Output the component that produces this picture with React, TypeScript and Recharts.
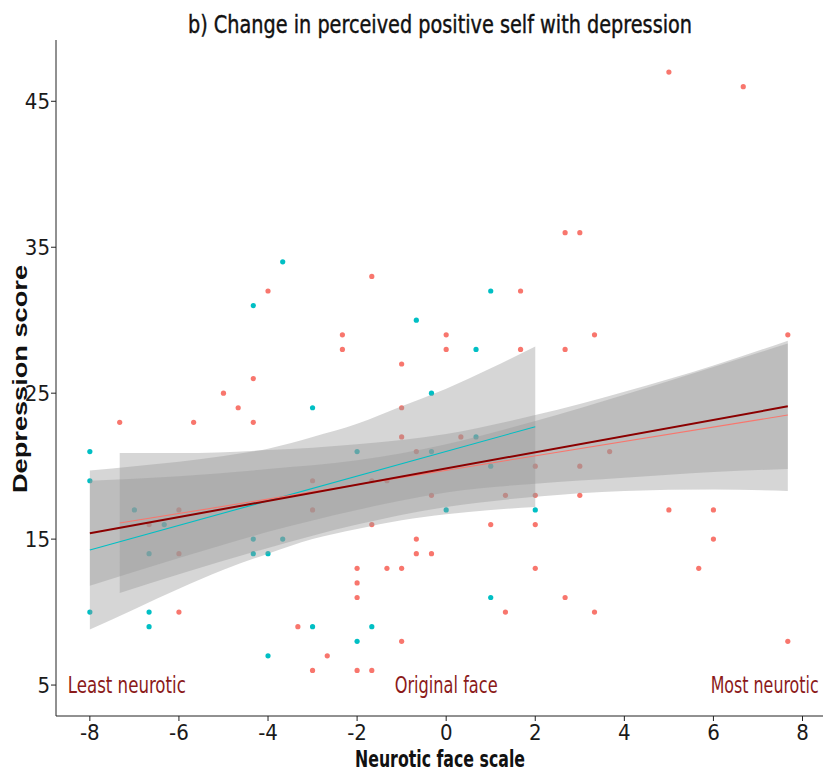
import React from "react";
import { ComposedChart, Scatter, Area, Line, XAxis, YAxis } from "recharts";

const xTicks = [-8, -6, -4, -2, 0, 2, 4, 6, 8];
const yTicks = [5, 15, 25, 35, 45];

// salmon group: [neurotic face scale, depression score]
const salmonRaw = [
  [-7.33, 23], [-6.67, 16], [-6, 17], [-6, 14], [-6, 10], [-5.67, 23], [-5, 25],
  [-4.67, 24], [-4.33, 26], [-4.33, 23], [-4, 32], [-3.33, 9], [-3, 19], [-3, 17],
  [-3, 6], [-2.67, 7], [-2.33, 29], [-2.33, 28], [-2, 13], [-2, 12], [-2, 11],
  [-2, 6], [-1.67, 33], [-1.67, 19], [-1.67, 16], [-1.67, 6], [-1.33, 19], [-1.33, 13],
  [-1, 27], [-1, 24], [-1, 22], [-1, 13], [-1, 8], [-0.67, 21], [-0.67, 15],
  [-0.67, 14], [-0.33, 18], [-0.33, 14], [0, 29], [0, 28], [0.33, 22], [1, 16],
  [1.33, 18], [1.33, 10], [1.67, 32], [1.67, 28], [2, 20], [2, 18], [2, 16],
  [2, 13], [2.67, 36], [2.67, 28], [2.67, 11], [3, 36], [3, 20], [3, 18],
  [3.33, 29], [3.33, 10], [3.67, 21], [5, 47], [5, 17], [5.67, 13], [6, 17],
  [6, 15], [6.67, 46], [7.67, 29], [7.67, 8],
];

// teal group
const tealRaw = [
  [-8, 21], [-8, 19], [-8, 10], [-7, 17], [-6.67, 14], [-6.67, 10], [-6.67, 9],
  [-6.33, 16], [-4.33, 31], [-4.33, 15], [-4.33, 14], [-4, 14], [-4, 7],
  [-3.67, 34], [-3.67, 15], [-3, 24], [-3, 9], [-2, 21], [-2, 8], [-1.67, 9],
  [-0.67, 30], [-0.33, 25], [-0.33, 21], [0, 17], [0.67, 28], [0.67, 22],
  [1, 32], [1, 20], [1, 11], [2, 17],
];

// confidence bands: [x, lower, upper]
const tealBandRaw = [
  [-8, 8.8, 19.7], [-7, 10.2, 20.0], [-6, 11.6, 20.3], [-5, 12.9, 20.7],
  [-4, 14.0, 21.2], [-3, 15.0, 22.0], [-2, 15.7, 22.9], [-1, 16.3, 24.1],
  [0, 16.7, 25.3], [1, 17.0, 26.7], [2, 17.2, 28.2],
];
const salmonBandRaw = [
  [-7.33, 11.3, 20.9], [-6, 12.6, 20.9], [-4, 14.4, 21.1], [-2, 16.0, 21.5],
  [0, 17.2, 22.2], [2, 17.9, 23.5], [4, 18.3, 25.1], [6, 18.4, 26.9],
  [7.67, 18.3, 28.6],
];
const overallBandRaw = [
  [-8, 11.8, 19.0], [-6, 13.7, 19.3], [-4, 15.5, 19.8], [-2, 17.0, 20.4],
  [0, 18.2, 21.5], [2, 18.8, 23.1], [4, 19.2, 24.9], [6, 19.6, 26.8],
  [7.67, 19.8, 28.4],
];

// fitted lines: [x, y]
const tealFitRaw = [[-8, 14.25], [2, 22.7]];
const salmonFitRaw = [[-7.33, 16.1], [7.67, 23.5]];
const overallFitRaw = [[-8, 15.4], [7.67, 24.1]];

const notes = [
  { x: -7.17, y: 5, text: "Least neurotic", len: 118 },
  { x: 0, y: 5, text: "Original face", len: 103 },
  { x: 7.15, y: 5, text: "Most neurotic", len: 108 },
];

const toPts = (rows: number[][]) => rows.map(([x, y]) => ({ x, y }));
const toBand = (rows: number[][]) => rows.map(([x, lo, hi]) => ({ x, band: [lo, hi] }));

const salmonPoints = toPts(salmonRaw);
const tealPoints = toPts(tealRaw);

const SALMON = "#F8766D";
const TEAL = "#00BFC4";
const DARKRED = "#8B0000";
const narrow = "'Liberation Sans Narrow', 'DejaVu Sans Condensed', sans-serif";

const dot = (color: string) => (p: any) => <circle cx={p.cx} cy={p.cy} r={2.6} fill={color} />;

export default function App() {
  const tick = { fontSize: 22, fontFamily: narrow, fill: "#1a1a1a" };
  return (
    <div style={{ position: "absolute", left: 0, top: 0, width: 825, height: 773, background: "#fff" }}>
      <ComposedChart width={825} height={773} margin={{ top: 40, right: 2, left: 0, bottom: 0 }}>
        <XAxis
          type="number"
          dataKey="x"
          domain={[-8.76, 8.46]}
          allowDataOverflow
          ticks={xTicks}
          tick={tick}
          tickSize={5}
          tickMargin={3}
          height={57}
          axisLine={{ stroke: "#222" }}
          tickLine={{ stroke: "#222" }}
        />
        <YAxis
          type="number"
          dataKey="y"
          domain={[2.88, 49.2]}
          allowDataOverflow
          ticks={yTicks}
          tick={tick}
          tickSize={5}
          tickMargin={1}
          width={56}
          axisLine={{ stroke: "#222" }}
          tickLine={{ stroke: "#222" }}
        />
        <Scatter data={salmonPoints} shape={dot(SALMON)} isAnimationActive={false} zIndex={50} />
        <Scatter data={tealPoints} shape={dot(TEAL)} isAnimationActive={false} zIndex={50} />
        <Area data={toBand(tealBandRaw)} dataKey="band" type="monotone" fill="#999999" fillOpacity={0.4} stroke="none" isAnimationActive={false} />
        <Area data={toBand(salmonBandRaw)} dataKey="band" type="monotone" fill="#999999" fillOpacity={0.4} stroke="none" isAnimationActive={false} />
        <Area data={toBand(overallBandRaw)} dataKey="band" type="monotone" fill="#999999" fillOpacity={0.4} stroke="none" isAnimationActive={false} />
        <Line data={toPts(tealFitRaw)} dataKey="y" type="linear" stroke={TEAL} strokeWidth={1.1} dot={false} isAnimationActive={false} />
        <Line data={toPts(salmonFitRaw)} dataKey="y" type="linear" stroke={SALMON} strokeWidth={1.1} dot={false} isAnimationActive={false} />
        <Line data={toPts(overallFitRaw)} dataKey="y" type="linear" stroke={DARKRED} strokeWidth={2} dot={false} isAnimationActive={false} />
        <Scatter
          data={notes}
          isAnimationActive={false}
          shape={(p: any) => (
            <text
              x={p.cx}
              y={p.cy}
              textAnchor="middle"
              dominantBaseline="central"
              fontFamily={narrow}
              fontSize={23}
              fill="#8B1A1A"
              textLength={p.payload.len}
              lengthAdjust="spacingAndGlyphs"
            >
              {p.payload.text}
            </text>
          )}
        />
      </ComposedChart>
      <svg width={825} height={773} style={{ position: "absolute", left: 0, top: 0, pointerEvents: "none" }}>
        <text x={440} y={33} textAnchor="middle" fontFamily="'DejaVu Sans Condensed', sans-serif" fontSize={24} fill="#111" stroke="#111" strokeWidth={0.4} textLength={504} lengthAdjust="spacingAndGlyphs">
          b) Change in perceived positive self with depression
        </text>
        <text x={440} y={767} textAnchor="middle" fontFamily="'DejaVu Sans Condensed', sans-serif" fontWeight="bold" fontSize={23} fill="#111" textLength={170} lengthAdjust="spacingAndGlyphs">
          Neurotic face scale
        </text>
        <text x={0} y={0} transform="translate(27 379) rotate(-90)" textAnchor="middle" fontFamily="'Liberation Sans', Arial, sans-serif" fontWeight="bold" fontSize={20} fill="#111" textLength={228} lengthAdjust="spacingAndGlyphs">
          Depression score
        </text>
      </svg>
    </div>
  );
}
